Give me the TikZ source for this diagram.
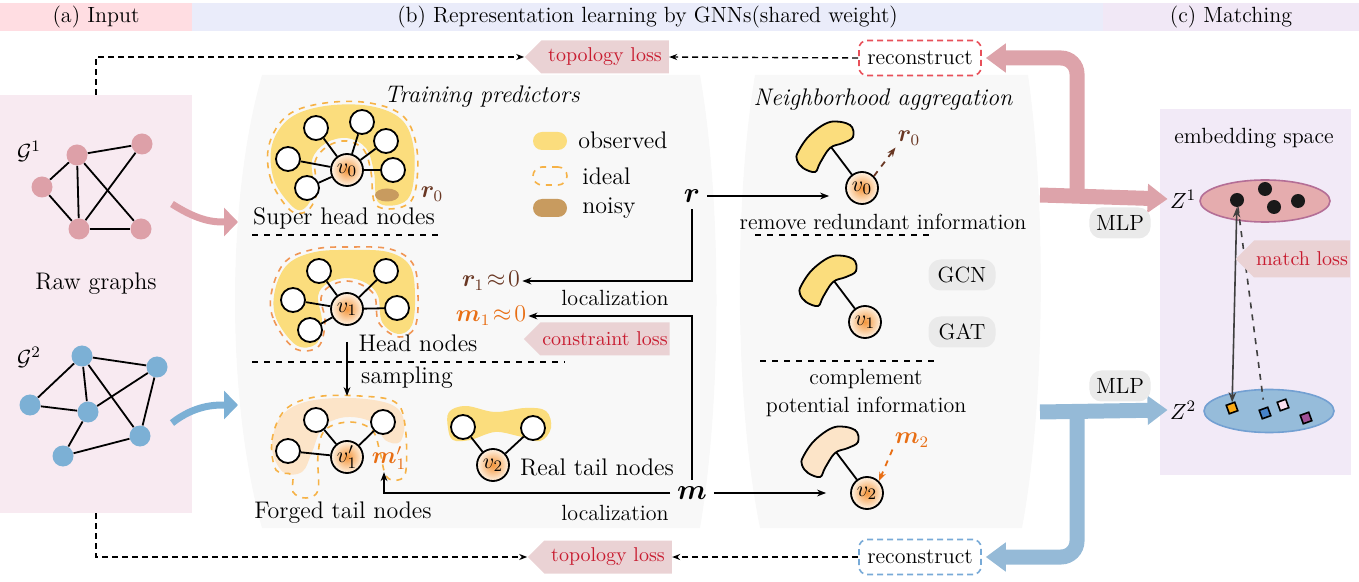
\documentclass[tikz,border=0pt]{standalone}
\usepackage{bm}
\usetikzlibrary{shapes.geometric,shapes.symbols,arrows.meta,calc}

\definecolor{hdra}{RGB}{255,221,226}
\definecolor{hdrb}{RGB}{234,236,250}
\definecolor{hdrc}{RGB}{241,232,246}
\definecolor{inbg}{RGB}{248,234,241}
\definecolor{panelgray}{RGB}{248,248,248}
\definecolor{gpink}{RGB}{221,160,168}
\definecolor{gblue}{RGB}{124,176,213}
\definecolor{arrpink}{RGB}{221,163,170}
\definecolor{arrblue}{RGB}{149,186,215}
\definecolor{lossbg}{RGB}{234,210,212}
\definecolor{lossred}{RGB}{200,28,48}
\definecolor{obsyel}{RGB}{251,221,125}
\definecolor{idealor}{RGB}{246,178,70}
\definecolor{heador}{RGB}{240,150,85}
\definecolor{noisybr}{RGB}{200,155,95}
\definecolor{forgedfill}{RGB}{252,228,200}
\definecolor{rbrown}{RGB}{105,55,35}
\definecolor{morange}{RGB}{232,110,20}
\definecolor{vin}{RGB}{244,150,60}
\definecolor{vout}{RGB}{255,243,228}
\definecolor{pillgray}{RGB}{234,234,234}
\definecolor{zpink}{RGB}{229,172,174}
\definecolor{zpinkline}{RGB}{180,110,150}
\definecolor{zblue}{RGB}{150,188,218}
\definecolor{zblueline}{RGB}{115,160,210}
\definecolor{matchbg}{RGB}{242,234,247}
\definecolor{recred}{RGB}{232,80,90}
\definecolor{recblue}{RGB}{120,170,215}
\definecolor{sqor}{RGB}{250,170,20}
\definecolor{sqbl}{RGB}{70,130,200}
\definecolor{sqpk}{RGB}{250,225,240}
\definecolor{sqpu}{RGB}{160,80,150}

\begin{document}
\begin{tikzpicture}[x=0.5pt,y=-0.5pt,
  lbl/.style={font=\fontsize{12}{14}\selectfont, inner sep=1pt},
  txt/.style={font=\fontsize{11}{13.5}\selectfont, inner sep=1pt},
  hdr/.style={font=\fontsize{11}{13}\selectfont, minimum height=14pt, inner sep=0pt},
  loss/.style={signal, signal to=west, fill=lossbg, text=lossred, font=\fontsize{10}{12}\selectfont, minimum height=16.5pt, inner xsep=1pt, inner ysep=2pt},
  plain/.style={circle, draw, fill=white, line width=0.9pt, minimum size=12pt, inner sep=0pt},
  vnode/.style={circle, draw, line width=0.9pt, minimum size=16pt, inner sep=0pt, shading=radial, inner color=vin, outer color=vout, font=\fontsize{11}{13}\selectfont},
  gone/.style={circle, fill=gpink, minimum size=10.5pt, inner sep=0pt},
  gtwo/.style={circle, fill=gblue, minimum size=10.5pt, inner sep=0pt},
  edge/.style={line width=0.9pt},
  pill/.style={rounded corners=6pt, fill=pillgray, font=\fontsize{11}{13}\selectfont, minimum height=15.5pt},
  recbox/.style={rounded corners=4pt, densely dashed, line width=0.8pt, fill=white, font=\fontsize{11}{13}\selectfont, minimum width=61pt, minimum height=17.5pt},
  sep/.style={dashed, line width=0.6pt},
  lossarr/.style={densely dashed, line width=0.7pt, -{Stealth[length=4pt]}},
  arr/.style={line width=0.7pt, -{Stealth[length=4.5pt]}},
  fatpink/.style={draw=arrpink, line width=7.5pt, rounded corners=8pt, -{Triangle[length=10pt,width=14pt]}},
  fatblue/.style={draw=arrblue, line width=7.5pt, rounded corners=8pt, -{Triangle[length=10pt,width=14pt]}},
  ideal/.style={draw=idealor, dashed, line width=0.8pt},
  legpill/.style={rounded corners=4.5pt, minimum width=17pt, minimum height=9pt, inner sep=0pt}]
\useasboundingbox (0,0) rectangle (1359,582);

% headers
\node[hdr, fill=hdra, minimum width=96pt] (ha) at (96,17) {(a) Input};
\node[hdr, fill=hdrb, minimum width=455.5pt] (hb) at (647.5,17) {(b) Representation learning by GNNs(shared weight)};
\node[hdr, fill=hdrc, minimum width=128pt] (hc) at (1231,17) {(c) Matching};

% panels
\node[fill=inbg, minimum width=96pt, minimum height=209pt, inner sep=0pt] (inpanel) at (96,304) {};
\fill[panelgray] (262,75) -- (700,75) .. controls (722,200) and (722,400) .. (700,528) -- (262,528) .. controls (226,400) and (226,200) .. (262,75) -- cycle;
\fill[panelgray] (755,75) -- (1028,75) .. controls (1046,200) and (1046,400) .. (1022,528) -- (760,528) .. controls (734,400) and (734,200) .. (755,75) -- cycle;
\node[fill=matchbg, minimum width=95.5pt, minimum height=183pt, inner sep=0pt] (mpanel) at (1255.5,292) {};

% input graphs
\node[txt] (g1lbl) at (29,151) {$\mathcal{G}^1$};
\node[txt] (g2lbl) at (29,357) {$\mathcal{G}^2$};
\node[lbl] (rawl) at (96,284) {Raw graphs};
\foreach \n/\x/\y in {a/77/155, b/142/144, c/42/187, d/79/229, e/141/229}
  \node[gone] (p\n) at (\x,\y) {};
\foreach \u/\v in {a/b, a/c, a/d, a/e, c/d, d/e, d/b}
  \draw[edge] (p\u) -- (p\v);
\foreach \n/\x/\y in {a/82/356, b/157/367, c/30/405, d/88/412, e/140/436, f/63/456}
  \node[gtwo] (q\n) at (\x,\y) {};
\foreach \u/\v in {a/b, a/c, a/d, a/e, c/d, d/b, b/e, d/f, f/e}
  \draw[edge] (q\u) -- (q\v);
\coordinate (swpa) at (172,204);
\coordinate (swpb) at (238,222);
\coordinate (swba) at (172,423);
\coordinate (swbb) at (238,405);
\draw[gpink, line width=3.5pt, -{Triangle[length=7pt,width=14pt]}] (swpa) .. controls (200,222) and (215,222) .. (swpb);
\draw[gblue, line width=3.5pt, -{Triangle[length=7pt,width=14pt]}] (swba) .. controls (195,405) and (215,405) .. (swbb);

% losses and reconstruct
\node[loss, minimum width=72pt] (toploss) at (605,57) {topology loss};
\node[recbox, draw=recred] (toprec) at (920,58) {reconstruct};
\node[loss, minimum width=72pt] (botloss) at (608,557) {topology loss};
\node[recbox, draw=recblue] (botrec) at (920,557) {reconstruct};
\draw[lossarr] (inpanel.north) |- (toploss.west);
\draw[lossarr] (toprec.west) -- (toploss.east);
\draw[lossarr] (inpanel.south) |- (botloss.west);
\draw[lossarr] (botrec.west) -- (botloss.east);

% training predictors
\node[font=\fontsize{12}{14}\selectfont\itshape] (ttrain) at (482,97) {Training predictors};
\fill[obsyel] plot[smooth cycle, tension=0.6] coordinates {(293,207) (274,180) (272,145) (290,118) (325,106) (370,106) (402,120) (414,150) (412,190) (400,204) (378,202) (374,172) (366,148) (347,138) (326,143) (312,160) (314,190) (305,208)};
\draw[ideal] plot[smooth cycle, tension=0.6] coordinates {(290,210) (271,180) (269,145) (288,115) (325,103) (370,103) (404,117) (417,150) (415,192) (402,207) (376,205) (371,172) (364,150) (347,141) (328,146) (315,162) (317,192) (307,211)};
\fill[noisybr] (387,195) ellipse (12 and 6.5);
\node[vnode] (sv0) at (347,170) {$v_0$};
\foreach \n/\x/\y in {1/316/128, 2/362/122, 3/386/141, 4/393/170, 5/288/159, 6/307/188} {
  \node[plain] (s\n) at (\x,\y) {};
  \draw[edge] (sv0) -- (s\n);
}
\node[lbl, text=rbrown, inner sep=0pt] (sr0) at (432,194) {$\bm{r}_0$};
\node[lbl] (supl) at (344,218) {Super head nodes};
\draw[sep] (252,235) -- (438,235);

\node[legpill, fill=obsyel] (legobs) at (550,141) {};
\node[lbl, anchor=west] (legobsl) at (576,140) {observed};
\node[legpill, draw=idealor, dashed, line width=0.8pt] (legideal) at (550,176) {};
\node[lbl, anchor=west] (legideall) at (580,176) {ideal};
\node[legpill, fill=noisybr] (legnoisy) at (550,208) {};
\node[lbl, anchor=west] (legnoisyl) at (580,208) {noisy};

\fill[obsyel] plot[smooth cycle, tension=0.6] coordinates {(296,345) (276,318) (275,290) (288,264) (315,252) (350,250) (388,252) (410,266) (415,295) (412,325) (398,334) (382,322) (378,296) (366,283) (347,278) (328,283) (318,296) (322,322) (316,344)};
\draw[heador, dashed, line width=0.8pt] plot[smooth cycle, tension=0.6] coordinates {(294,348) (273,318) (272,290) (286,261) (315,249) (350,247) (390,249) (413,264) (418,295) (415,327) (399,337) (379,323) (375,297) (364,286) (347,281) (330,286) (321,298) (325,322) (318,347)};
\node[vnode] (hv1) at (347,309) {$v_1$};
\foreach \n/\x/\y in {1/319/271, 2/386/271, 3/293/300, 4/397/308, 5/310/330} {
  \node[plain] (h\n) at (\x,\y) {};
  \draw[edge] (hv1) -- (h\n);
}
\node[lbl] (headl) at (418,343) {Head nodes};
\draw[sep] (252,362) -- (565,362);
\node[lbl] (sampl) at (407,378) {sampling};

\fill[forgedfill] plot[smooth cycle, tension=0.6] coordinates {(283,472) (272,448) (280,418) (305,402) (350,398) (390,404) (404,420) (400,442) (385,440) (376,425) (360,418) (340,418) (322,428) (312,452) (302,472)};
\draw[ideal] plot[smooth cycle, tension=0.6] coordinates {(276,470) (272,440) (285,410) (315,397) (360,396) (395,402) (405,425) (406,470) (398,480) (386,476) (380,452) (372,430) (350,422) (325,430) (318,455) (318,490) (306,498) (293,492) (292,475)};
\node[vnode] (fv1) at (347,457) {$v_1'$};
\foreach \n/\x/\y in {1/316/420, 2/383/422, 3/288/451} {
  \node[plain] (f\n) at (\x,\y) {};
  \draw[edge] (fv1) -- (f\n);
}
\node[lbl, text=morange] (fm1) at (389,458) {$\bm{m}_1'$};
\node[lbl] (forgl) at (343,513) {Forged tail nodes};
\draw[arr, shorten <=8pt, shorten >=22pt] (hv1.south) -- (fv1.north);

\fill[obsyel] plot[smooth cycle, tension=0.6] coordinates {(448,428) (449,412) (466,406) (495,412) (525,408) (546,411) (551,428) (540,441) (518,436) (495,432) (470,440) (453,440)};
\node[vnode] (rv2) at (493,465) {$v_2$};
\foreach \n/\x/\y in {1/463/427, 2/533/428} {
  \node[plain] (t\n) at (\x,\y) {};
  \draw[edge] (rv2) -- (t\n);
}
\node[lbl] (reall) at (597,467) {Real tail nodes};

\node[font=\fontsize{14}{16}\selectfont] (rvec) at (692,196) {$\bm{r}$};
\node[font=\fontsize{14}{16}\selectfont] (mvec) at (692,493) {$\bm{m}$};
\node[lbl, text=rbrown] (r1) at (491,281) {$\bm{r}_1\!\approx\! 0$};
\node[lbl, text=morange] (m1) at (491,316) {$\bm{m}_1\!\approx\! 0$};
\node[txt] (loc1) at (615,298) {localization};
\node[txt] (loc2) at (615,513) {localization};
\node[loss, minimum width=72pt] (conloss) at (605,339) {constraint loss};
\draw[arr] (rvec.south) |- (r1.east);
\draw[arr] (mvec.north) |- (m1.east);
\draw[arr] (mvec.west) -| ([xshift=-2.5pt]fm1.south);

% neighborhood aggregation
\node[font=\fontsize{12}{14}\selectfont\itshape] (tneigh) at (883,100) {Neighborhood aggregation};
\foreach \nm/\lab/\px/\py/\col in {nv0/v_0/862/188/obsyel, nv1/v_1/865/322/obsyel, nv2/v_2/867/493/forgedfill} {
  \begin{scope}[shift={(\px,\py)}]
    \draw[fill=\col, line width=0.9pt] plot[smooth cycle, tension=0.6] coordinates {(-64,-36) (-52,-53) (-32,-66) (-12,-63) (-9,-51) (-19,-45) (-32,-40) (-42,-25) (-47,-16) (-59,-20) (-65,-28)};
    \coordinate (\nm k) at (-31,-41);
  \end{scope}
  \node[vnode] (\nm) at (\px,\py) {$\lab$};
  \draw[edge] (\nm k) -- (\nm);
}
\node[lbl, text=rbrown] (nr0) at (909,138) {$\bm{r}_0$};
\node[lbl, text=morange] (nm2) at (912,440) {$\bm{m}_2$};
\draw[arr, dashed, rbrown, line width=0.9pt] (nv0.north east) -- (nr0.south west);
\draw[arr, dashed, morange, line width=0.9pt] (nm2.south west) -- (nv2.north east);
\node[txt] (rmv) at (883,222) {remove redundant information};
\draw[sep] (755,235) -- (932,235);
\node[pill, minimum width=33.5pt] (gcn) at (962,275) {GCN};
\node[pill, minimum width=33.5pt] (gat) at (962,332) {GAT};
\draw[sep] (760,361) -- (938,361);
\node[txt, align=center] (cmpl) at (866,393) {complement\\potential information};
\draw[arr, shorten >=8pt] (rvec.east) -- (rvec.east -| nv0.west);
\draw[arr, shorten >=12pt] (mvec.east) -- (mvec.east -| nv2.west);

% matching
\node[txt] (emb) at (1254,138) {embedding space};
\node[txt] (z1lbl) at (1183,199) {$Z^1$};
\node[txt] (z2lbl) at (1183,410) {$Z^2$};
\node[ellipse, fill=zpink, draw=zpinkline, line width=0.8pt, minimum width=65pt, minimum height=21pt] (z1e) at (1265,201) {};
\node[ellipse, fill=zblue, draw=zblueline, line width=0.8pt, minimum width=65pt, minimum height=21.5pt] (z2e) at (1269,411) {};
\foreach \n/\x/\y in {1/1237/200, 2/1265/189, 3/1274/207, 4/1298/201}
  \node[circle, fill=black!90, minimum size=7pt, inner sep=0pt] (d\n) at (\x,\y) {};
\foreach \n/\x/\y/\c in {1/1232/408/sqor, 2/1265/413/sqbl, 3/1283/405/sqpk, 4/1306/418/sqpu}
  \node[draw, line width=0.8pt, fill=\c, minimum size=4.5pt, inner sep=0pt, rotate=20] (sq\n) at (\x,\y) {};
\draw[line width=0.8pt, black!75, {Stealth[length=5pt]}-{Stealth[length=5pt]}] (d1) -- (sq1);
\draw[dashed, line width=0.8pt, black!75, shorten >=4pt] (d1) -- (sq2);
\node[loss, minimum width=40pt, minimum height=18.5pt] (mloss) at (1302,259) {match loss};

% fat arrows
\coordinate (pinkfrom) at (1040,195);
\coordinate (pinkjoin) at (1077,195);
\coordinate (bluefrom) at (1040,412);
\coordinate (bluejoin) at (1077,412);
\draw[fatpink, shorten >=2pt] (pinkjoin) |- (toprec.east);
\draw[fatpink] (pinkfrom) -- (z1lbl.west);
\draw[fatblue, shorten >=2pt] (bluejoin) |- (botrec.east);
\draw[fatblue] (bluefrom) -- (z2lbl.west);
\node[pill, minimum width=24.5pt] (mlp1) at (1120,223) {MLP};
\node[pill, minimum width=24.5pt] (mlp2) at (1120,386) {MLP};
\end{tikzpicture}
\end{document}
